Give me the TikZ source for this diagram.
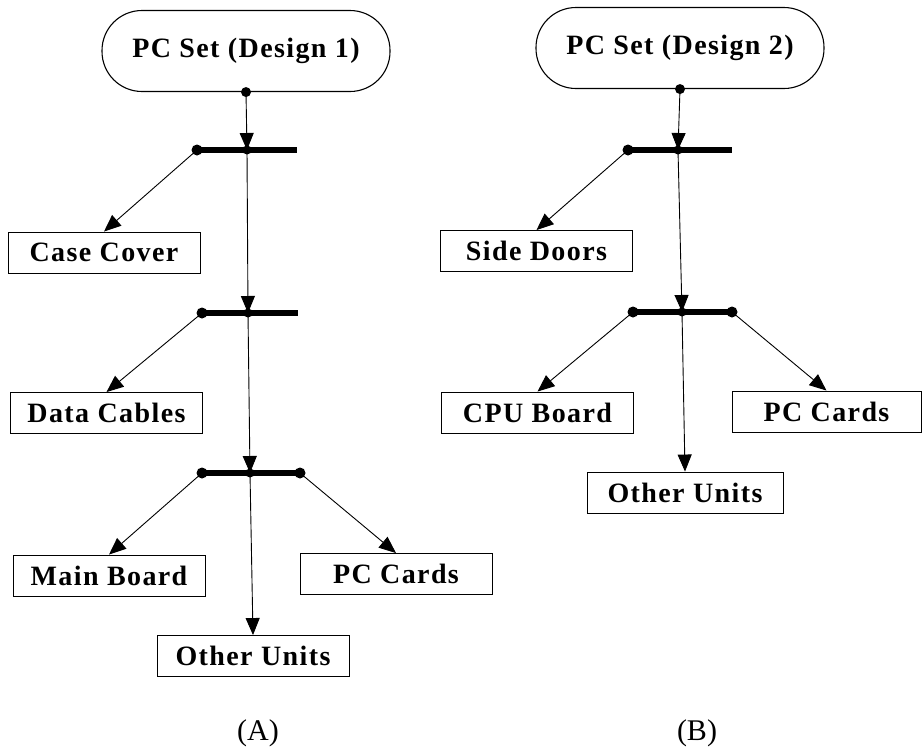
\documentclass[tikz,border=0pt]{standalone}
\usepackage{fontspec}
\setmainfont{Liberation Serif}
\newfontfamily\boxfont[LetterSpace=5]{Liberation Serif}
\usetikzlibrary{arrows.meta}

\tikzset{
  rootnode/.style={draw, line width=1.1pt, rounded corners=40pt,
    minimum width=288pt, minimum height=81pt, inner sep=0pt,
    font=\boxfont\bfseries\fontsize{28}{31}\selectfont},
  partbox/.style={draw, line width=0.9pt, minimum width=192pt,
    minimum height=41pt, inner sep=0pt,
    font=\boxfont\bfseries\fontsize{28}{31}\selectfont},
  caption/.style={font=\fontsize{30}{34}\selectfont},
  link/.style={line width=0.9pt, -{Triangle[length=17pt,width=14pt]}},
  bar/.style={line width=5.5pt},
  joint/.style={fill=black, draw=none},
}

\begin{document}
\begin{tikzpicture}[x=1pt, y=-1pt]
\useasboundingbox (0,0) rectangle (922,750);

% ---------------- Design 1 ----------------
\node[rootnode] (a0) at (246,51) {PC Set (Design 1)};
\node[partbox] (acase) at (104,252.5) {Case Cover};
\node[partbox] (adata) at (106.5,413) {Data Cables};
\node[partbox] (amain) at (109,575.5) {Main Board};
\node[partbox] (acard) at (396,574) {PC Cards};
\node[partbox] (aother) at (253,656) {Other Units};

% decomposition bars
\coordinate (aj1) at (247,150);
\coordinate (al1) at (197,150);
\coordinate (ar1) at (297,150);
\coordinate (aj2) at (248,313);
\coordinate (al2) at (202,313);
\coordinate (ar2) at (298,313);
\coordinate (aj3) at (250,473);
\coordinate (al3) at (202,473);
\coordinate (ar3) at (300,473);

\draw[bar] (al1) -- (ar1);
\draw[bar] (al2) -- (ar2);
\draw[bar] (al3) -- (ar3);

\draw[link] (a0.south) -- (aj1);
\draw[link] (aj1) -- (aj2);
\draw[link] (aj2) -- (aj3);
\draw[link] (aj3) -- (aother.north);
\draw[link] (al1) -- (acase.north);
\draw[link] (al2) -- (adata.north);
\draw[link] (al3) -- (amain.north);
\draw[link] (ar3) -- (acard.north);

\fill[joint] (a0.south) circle (5pt);
\fill[joint] (al1) circle (5.5pt);
\fill[joint] (al2) circle (5.5pt);
\fill[joint] (al3) circle (5.5pt);
\fill[joint] (ar3) circle (5.5pt);
\fill[joint] (aj1) circle (4.5pt);
\fill[joint] (aj2) circle (4.5pt);
\fill[joint] (aj3) circle (4.5pt);

\node[caption] (acap) at (258,733) {(A)};

% ---------------- Design 2 ----------------
\node[rootnode] (b0) at (680,48) {PC Set (Design 2)};
\node[partbox] (bside) at (536.5,251) {Side Doors};
\node[partbox] (bcpu) at (537.5,412.5) {CPU Board};
\node[partbox, minimum width=189pt] (bcard) at (826.5,411.5) {PC Cards};
\node[partbox, minimum width=196pt] (bother) at (685,492.5) {Other Units};

\coordinate (bj1) at (678,150);
\coordinate (bl1) at (628,150);
\coordinate (br1) at (732,150);
\coordinate (bj2) at (682,312);
\coordinate (bl2) at (633,312);
\coordinate (br2) at (732,312);

\draw[bar] (bl1) -- (br1);
\draw[bar] (bl2) -- (br2);

\draw[link] (b0.south) -- (bj1);
\draw[link] (bj1) -- (bj2);
\draw[link] (bj2) -- (bother.north);
\draw[link] (bl1) -- (bside.north);
\draw[link] (bl2) -- (bcpu.north);
\draw[link] (br2) -- (bcard.north);

\fill[joint] (b0.south) circle (5pt);
\fill[joint] (bl1) circle (5.5pt);
\fill[joint] (bl2) circle (5.5pt);
\fill[joint] (br2) circle (5.5pt);
\fill[joint] (bj1) circle (4.5pt);
\fill[joint] (bj2) circle (4.5pt);

\node[caption] (bcap) at (697,733) {(B)};
\end{tikzpicture}
\end{document}
